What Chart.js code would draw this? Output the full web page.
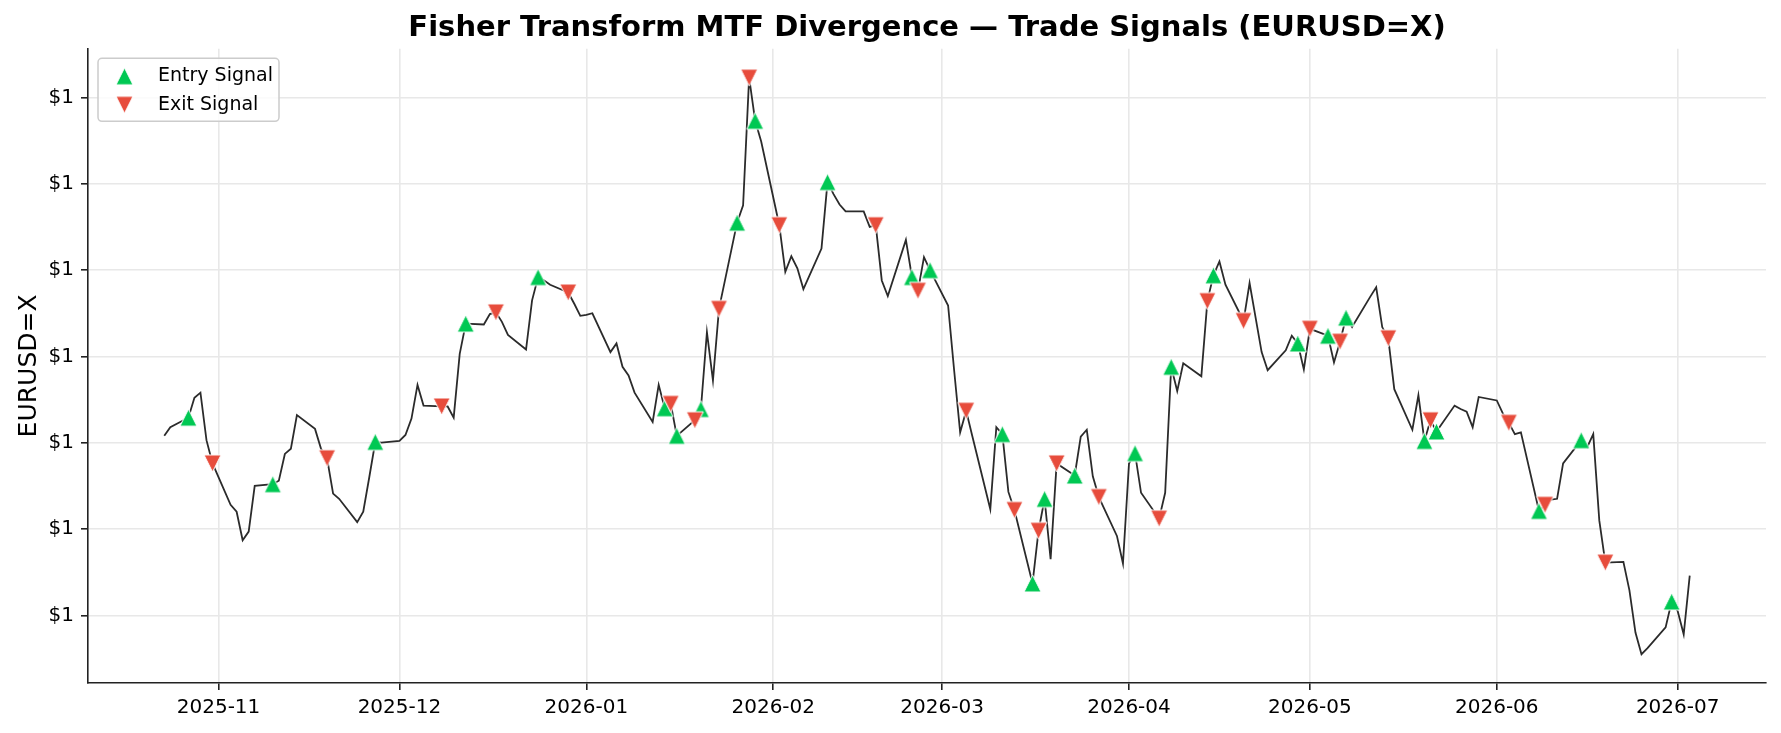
<!DOCTYPE html>
<html><head><meta charset="utf-8">
<script src="https://cdn.jsdelivr.net/npm/chart.js@4.4.1/dist/chart.umd.min.js"></script>
<style>html,body{margin:0;padding:0;background:#fff;}canvas{display:block;}</style>
</head><body>
<canvas id="c" width="1781" height="733"></canvas>
<script>
// ---------------- data ----------------
const dates = [
 '2025-10-23','2025-10-24','2025-10-27','2025-10-28','2025-10-29','2025-10-30','2025-10-31',
 '2025-11-03','2025-11-04','2025-11-05','2025-11-06','2025-11-07',
 '2025-11-10','2025-11-11','2025-11-12','2025-11-13','2025-11-14',
 '2025-11-17','2025-11-18','2025-11-19','2025-11-20','2025-11-21',
 '2025-11-24','2025-11-25','2025-11-26','2025-11-27','2025-11-28',
 '2025-12-01','2025-12-02','2025-12-03','2025-12-04','2025-12-05',
 '2025-12-08','2025-12-09','2025-12-10','2025-12-11','2025-12-12',
 '2025-12-15','2025-12-16','2025-12-17','2025-12-18','2025-12-19',
 '2025-12-22','2025-12-23','2025-12-24','2025-12-25','2025-12-26',
 '2025-12-29','2025-12-30','2025-12-31','2026-01-01','2026-01-02',
 '2026-01-05','2026-01-06','2026-01-07','2026-01-08','2026-01-09',
 '2026-01-12','2026-01-13','2026-01-14','2026-01-15','2026-01-16',
 '2026-01-19','2026-01-20','2026-01-21','2026-01-22','2026-01-23',
 '2026-01-26','2026-01-27','2026-01-28','2026-01-29','2026-01-30',
 '2026-02-02','2026-02-03','2026-02-04','2026-02-05','2026-02-06',
 '2026-02-09','2026-02-10','2026-02-11','2026-02-12','2026-02-13',
 '2026-02-16','2026-02-17','2026-02-18','2026-02-19','2026-02-20',
 '2026-02-23','2026-02-24','2026-02-25','2026-02-26','2026-02-27',
 '2026-03-02','2026-03-03','2026-03-04','2026-03-05','2026-03-06',
 '2026-03-09','2026-03-10','2026-03-11','2026-03-12','2026-03-13',
 '2026-03-16','2026-03-17','2026-03-18','2026-03-19','2026-03-20',
 '2026-03-23','2026-03-24','2026-03-25','2026-03-26','2026-03-27',
 '2026-03-30','2026-03-31','2026-04-01','2026-04-02','2026-04-03',
 '2026-04-06','2026-04-07','2026-04-08','2026-04-09','2026-04-10',
 '2026-04-13','2026-04-14','2026-04-15','2026-04-16','2026-04-17',
 '2026-04-20','2026-04-21','2026-04-22','2026-04-23','2026-04-24',
 '2026-04-27','2026-04-28','2026-04-29','2026-04-30','2026-05-01',
 '2026-05-04','2026-05-05','2026-05-06','2026-05-07','2026-05-08',
 '2026-05-11','2026-05-12','2026-05-13','2026-05-14','2026-05-15',
 '2026-05-18','2026-05-19','2026-05-20','2026-05-21','2026-05-22',
 '2026-05-25','2026-05-26','2026-05-27','2026-05-28','2026-05-29',
 '2026-06-01','2026-06-02','2026-06-03','2026-06-04','2026-06-05',
 '2026-06-08','2026-06-09','2026-06-10','2026-06-11','2026-06-12',
 '2026-06-15','2026-06-16','2026-06-17','2026-06-18','2026-06-19',
 '2026-06-22','2026-06-23','2026-06-24','2026-06-25','2026-06-26',
 '2026-06-29','2026-06-30','2026-07-01','2026-07-02','2026-07-03'
];
const prices = [
 1.1608,1.1618,1.1629,1.1652,1.1658,1.1603,1.1576,
 1.1528,1.1520,1.1487,1.1497,1.1550,
 1.1552,1.1556,1.1587,1.1593,1.1632,
 1.1616,1.1593,1.1582,1.1541,1.1535,
 1.1508,1.1520,1.1560,1.1601,1.1600,
 1.1602,1.1609,1.1628,1.1667,1.1643,
 1.1642,1.1642,1.1629,1.1703,1.1738,
 1.1737,1.1749,1.1751,1.1740,1.1725,
 1.1708,1.1765,1.1792,1.1788,1.1783,
 1.1774,1.1761,1.1747,1.1748,1.1750,
 1.1705,1.1715,1.1688,1.1678,1.1658,
 1.1624,1.1667,1.1640,1.1645,1.1608,
 1.1626,1.1639,1.1728,1.1672,1.1755,
 1.1855,1.1875,1.2023,1.1973,1.1949,
 1.1852,1.1798,1.1816,1.1802,1.1778,
 1.1825,1.1902,1.1888,1.1876,1.1868,
 1.1868,1.1850,1.1852,1.1788,1.1770,
 1.1835,1.1792,1.1776,1.1815,1.1800,
 1.1759,1.1684,1.1612,1.1637,1.1608,
 1.1523,1.1618,1.1610,1.1543,1.1522,
 1.1437,1.1498,1.1535,1.1465,1.1576,
 1.1562,1.1607,1.1615,1.1561,1.1537,
 1.1492,1.1460,1.1576,1.1588,1.1542,
 1.1512,1.1542,1.1688,1.1660,1.1692,
 1.1677,1.1764,1.1794,1.1810,1.1783,
 1.1741,1.1785,1.1745,1.1705,1.1684,
 1.1707,1.1724,1.1715,1.1685,1.1732,
 1.1724,1.1693,1.1717,1.1745,1.1734,
 1.1769,1.1780,1.1734,1.1721,1.1662,
 1.1615,1.1655,1.1602,1.1626,1.1613,
 1.1643,1.1639,1.1636,1.1618,1.1653,
 1.1649,1.1634,1.1623,1.1610,1.1612,
 1.1521,1.1528,1.1534,1.1535,1.1576,
 1.1603,1.1595,1.1610,1.1510,1.1461,
 1.1462,1.1429,1.1380,1.1355,1.1362,
 1.1386,1.1416,1.1405,1.1378,1.1446
];
const entryDates = [
 '2025-10-27','2025-11-10','2025-11-27','2025-12-12','2025-12-24',
 '2026-01-14','2026-01-16','2026-01-20','2026-01-26','2026-01-29',
 '2026-02-10','2026-02-24','2026-02-27','2026-03-11','2026-03-16',
 '2026-03-18','2026-03-23','2026-04-02','2026-04-08','2026-04-15',
 '2026-04-29','2026-05-04','2026-05-07','2026-05-20','2026-05-22',
 '2026-06-08','2026-06-15','2026-06-30'
];
const exitDates = [
 '2025-10-31','2025-11-19','2025-12-08','2025-12-17','2025-12-29',
 '2026-01-15','2026-01-19','2026-01-23','2026-01-28','2026-02-02',
 '2026-02-18','2026-02-25','2026-03-05','2026-03-13','2026-03-17',
 '2026-03-20','2026-03-27','2026-04-06','2026-04-14','2026-04-20',
 '2026-05-01','2026-05-06','2026-05-14','2026-05-21','2026-06-03',
 '2026-06-09','2026-06-19'
];
const xTickDates  = ['2025-11-01','2025-12-01','2026-01-01','2026-02-01','2026-03-01','2026-04-01','2026-05-01','2026-06-01','2026-07-01'];
const xTickLabels = ['2025-11','2025-12','2026-01','2026-02','2026-03','2026-04','2026-05','2026-06','2026-07'];
const yTicks = [1.14, 1.15, 1.16, 1.17, 1.18, 1.19, 1.20];

// ---------------- helpers ----------------
const ORIGIN = Date.UTC(2025, 10, 1);
const toDay = s => { const [y, m, d] = s.split('-').map(Number); return (Date.UTC(y, m - 1, d) - ORIGIN) / 86400000; };
const priceAt = s => prices[dates.indexOf(s)];

const linePts = dates.map((d, i) => ({x: toDay(d), y: prices[i]}));
const entryPts = entryDates.map(d => ({x: toDay(d), y: priceAt(d)}));
const exitPts = exitDates.map(d => ({x: toDay(d), y: priceAt(d)}));

const xs = linePts.map(p => p.x);
const ysAll = prices.concat(entryPts.map(p => p.y), exitPts.map(p => p.y));
const xMin0 = Math.min(...xs), xMax0 = Math.max(...xs);
const yMin0 = Math.min(...ysAll), yMax0 = Math.max(...ysAll);
const xm = 0.05 * (xMax0 - xMin0), ym = 0.05 * (yMax0 - yMin0);

const FONT = "'DejaVu Sans', 'Liberation Sans', sans-serif";
const GREEN = '#00c853', RED = '#e74c3c';

function triangle(color, down) {
  const s = 17, pad = 2;
  const c = document.createElement('canvas');
  c.width = s + 2 * pad; c.height = s + 2 * pad;
  const g = c.getContext('2d');
  const cx = c.width / 2, cy = c.height / 2, h = s / 2;
  g.beginPath();
  if (!down) { g.moveTo(cx, cy - h); g.lineTo(cx - h, cy + h); g.lineTo(cx + h, cy + h); }
  else { g.moveTo(cx, cy + h); g.lineTo(cx - h, cy - h); g.lineTo(cx + h, cy - h); }
  g.closePath();
  g.fillStyle = color; g.fill();
  g.strokeStyle = '#ffffff'; g.lineWidth = 1; g.stroke();
  return c;
}
const upTri = triangle(GREEN, false);
const downTri = triangle(RED, true);

// matplotlib-like legend box drawn inside the axes
const mplLegend = {
  id: 'mplLegend',
  afterDraw(chart) {
    const ctx = chart.ctx, a = chart.chartArea;
    const x = a.left + 10, y = a.top + 9.5, w = 181, h = 63, r = 4;
    ctx.save();
    ctx.beginPath();
    ctx.moveTo(x + r, y);
    ctx.arcTo(x + w, y, x + w, y + h, r);
    ctx.arcTo(x + w, y + h, x, y + h, r);
    ctx.arcTo(x, y + h, x, y, r);
    ctx.arcTo(x, y, x + w, y, r);
    ctx.closePath();
    ctx.fillStyle = 'rgba(255,255,255,0.8)';
    ctx.fill();
    ctx.strokeStyle = '#cccccc';
    ctx.lineWidth = 1.5;
    ctx.stroke();
    const items = [
      {img: upTri, label: chart.data.datasets[0].label},
      {img: downTri, label: chart.data.datasets[1].label}
    ];
    ctx.font = '19px ' + FONT;
    ctx.fillStyle = '#000';
    ctx.textBaseline = 'middle';
    ctx.textAlign = 'left';
    items.forEach((it, i) => {
      const cy = y + 18 + i * 28.5;
      ctx.drawImage(it.img, x + 26.5 - it.img.width / 2, cy - it.img.height / 2);
      ctx.fillText(it.label, x + 60, cy);
    });
    ctx.restore();
  }
};

new Chart(document.getElementById('c'), {
  type: 'line',
  data: {
    datasets: [
      {label: 'Entry Signal', type: 'scatter', data: entryPts, pointStyle: upTri, pointRadius: 8, pointHoverRadius: 8, order: 2},
      {label: 'Exit Signal', type: 'scatter', data: exitPts, pointStyle: downTri, pointRadius: 8, pointHoverRadius: 8, order: 1},
      {label: 'EURUSD=X', type: 'line', data: linePts, borderColor: '#2b2b2b', borderWidth: 1.8, pointRadius: 0, tension: 0, fill: false, order: 3}
    ]
  },
  options: {
    responsive: false,
    devicePixelRatio: 1,
    animation: false,
    events: [],
    layout: {padding: {left: 0, right: 15, top: 0, bottom: 0}},
    plugins: {
      legend: {display: false},
      tooltip: {enabled: false},
      title: {
        display: true,
        text: 'Fisher Transform MTF Divergence \u2014 Trade Signals (EURUSD=X)',
        font: {family: FONT, size: 29, weight: 'bold'},
        color: '#000',
        padding: {top: 11, bottom: 3},
        fullSize: false
      }
    },
    scales: {
      x: {
        type: 'linear',
        min: xMin0 - xm,
        max: xMax0 + xm,
        afterBuildTicks: s => { s.ticks = xTickDates.map(d => ({value: toDay(d)})); },
        afterFit: s => { s.height = 50; },
        ticks: {
          autoSkip: false, maxRotation: 0,
          callback: (v, i) => xTickLabels[i],
          font: {family: FONT, size: 20}, color: '#000', padding: 6
        },
        grid: {color: '#e8e8e8', lineWidth: 1.6, tickColor: '#222', tickLength: 7, tickWidth: 1.6},
        border: {display: true, color: '#222', width: 1.6}
      },
      y: {
        type: 'linear',
        min: yMin0 - ym,
        max: yMax0 + ym,
        afterBuildTicks: s => { s.ticks = yTicks.map(v => ({value: v})); },
        afterFit: s => { s.width = 88; },
        ticks: {
          autoSkip: false,
          callback: v => '$' + v.toFixed(0),
          font: {family: FONT, size: 20}, color: '#000', padding: 7
        },
        title: {display: true, text: 'EURUSD=X', font: {family: FONT, size: 25}, color: '#000', padding: {top: 14, bottom: 0}},
        grid: {color: '#e8e8e8', lineWidth: 1.6, tickColor: '#222', tickLength: 7, tickWidth: 1.6},
        border: {display: true, color: '#222', width: 1.6}
      }
    }
  },
  plugins: [mplLegend]
});
</script>
</body></html>
